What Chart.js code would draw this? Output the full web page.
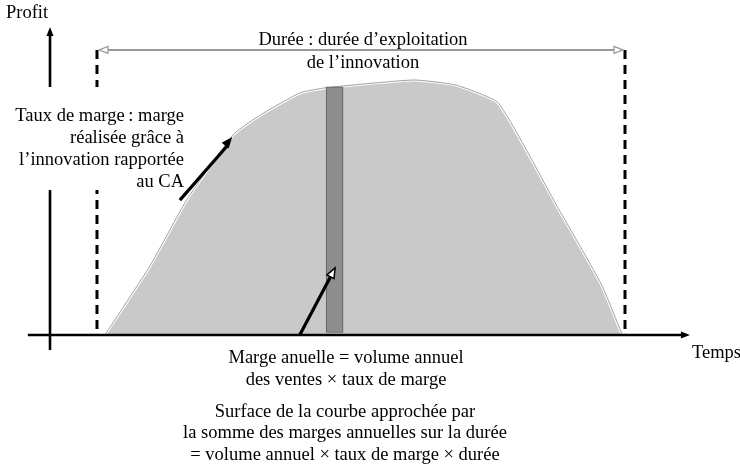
<!DOCTYPE html>
<html>
<head>
<meta charset="utf-8">
<script src="https://cdn.jsdelivr.net/npm/chart.js@4/dist/chart.umd.min.js"></script>
<style>
  html, body { margin: 0; padding: 0; background: #fff; }
  #c { display: block; }
</style>
</head>
<body>
<canvas id="c" width="740" height="465"></canvas>
<script>
// life cycle of the innovation: time (years of the duration) vs profit (% of peak)
const years  = [0.15, 1.0, 1.7, 2.6, 3.15, 3.85, 4.35, 6.0, 6.8, 7.6, 8.7, 9.55, 9.95];
const profit = [0,    27,  53,  79,  87,   95,   97,   100, 98,  91,  51,  20,   0];

// one annual margin slice
const barYear   = [4.5];
const barMargin = [[1, 97.3]];

const durationStart = 0;
const durationEnd   = 10;

const topLabel    = ["Durée : durée d’exploitation", "de l’innovation"];
const leftLabel   = ["Taux de marge\u2009: marge", "réalisée grâce à", "l’innovation rapportée", "au CA"];
const bottomLabel = ["Marge anuelle = volume annuel", "des ventes × taux de marge"];
const footLabel   = ["Surface de la courbe approchée par", "la somme des marges annuelles sur la durée", "= volume annuel × taux de marge × durée"];

const FONT = "18.5px 'Liberation Serif', 'Times New Roman', serif";

function arrowHead(ctx, x1, y1, x2, y2, len, wid, open) {
  const a = Math.atan2(y2 - y1, x2 - x1);
  ctx.save();
  ctx.translate(x2, y2);
  ctx.rotate(a);
  ctx.beginPath();
  ctx.moveTo(0, 0);
  ctx.lineTo(-len, -wid / 2);
  ctx.lineTo(-len, wid / 2);
  ctx.closePath();
  if (open) { ctx.fillStyle = "#fff"; ctx.fill(); ctx.stroke(); }
  else ctx.fill();
  ctx.restore();
}

const diagram = {
  id: "diagram",
  afterDatasetsDraw(chart) {
    const { ctx } = chart;
    const X = chart.scales.x, Y = chart.scales.y;
    const px = v => X.getPixelForValue(v);
    const py = v => Y.getPixelForValue(v);

    // axes
    const ox = px(-0.89), oy = py(0);
    ctx.save();
    ctx.strokeStyle = "#000"; ctx.fillStyle = "#000"; ctx.lineWidth = 2.6;
    ctx.beginPath();
    ctx.moveTo(px(-1.31), oy); ctx.lineTo(px(11.1), oy);
    ctx.moveTo(ox, py(-5.9)); ctx.lineTo(ox, py(119));
    ctx.stroke();
    arrowHead(ctx, px(-1.31), oy, px(11.23), oy, 9, 7, false);
    arrowHead(ctx, ox, py(-5.9), ox, py(120.8), 9, 7, false);

    // duration bounds
    const topP = 111.8;
    ctx.lineWidth = 3;
    ctx.setLineDash([9, 6]);
    ctx.beginPath();
    ctx.moveTo(px(durationStart), py(topP)); ctx.lineTo(px(durationStart), oy);
    ctx.moveTo(px(durationEnd), py(topP)); ctx.lineTo(px(durationEnd), oy);
    ctx.stroke();
    ctx.setLineDash([]);

    // duration arrow
    ctx.strokeStyle = "#999"; ctx.lineWidth = 2;
    ctx.beginPath();
    ctx.moveTo(px(durationStart) + 3, py(topP)); ctx.lineTo(px(durationEnd) - 3, py(topP));
    ctx.stroke();
    ctx.lineWidth = 1.2;
    arrowHead(ctx, px(durationEnd), py(topP), px(durationStart) + 2, py(topP), 9, 7, true);
    arrowHead(ctx, px(durationStart), py(topP), px(durationEnd) - 2, py(topP), 9, 7, true);

    // white box behind the left text
    ctx.fillStyle = "#fff";
    ctx.fillRect(8, 87, 178, 103);

    // pointer arrows
    ctx.strokeStyle = "#000"; ctx.fillStyle = "#000"; ctx.lineWidth = 3.2;
    ctx.beginPath();
    ctx.moveTo(px(1.57), py(52.9)); ctx.lineTo(px(2.48), py(74.5));
    ctx.moveTo(px(3.84), py(0)); ctx.lineTo(px(4.44), py(23.5));
    ctx.stroke();
    arrowHead(ctx, px(1.57), py(52.9), px(2.56), py(77.6), 11, 9, false);
    ctx.lineWidth = 1.5;
    arrowHead(ctx, px(3.84), py(0), px(4.51), py(26.3), 10, 8, true);

    // texts
    ctx.fillStyle = "#000";
    ctx.font = FONT;
    ctx.textBaseline = "middle";
    ctx.textAlign = "left";
    ctx.fillText("Profit", 6, 13);
    ctx.fillText("Temps", 692, 353);
    ctx.textAlign = "right";
    leftLabel.forEach((s, i) => ctx.fillText(s, 184, 116 + i * 22));
    ctx.textAlign = "center";
    topLabel.forEach((s, i) => ctx.fillText(s, 363, 40 + i * 23));
    bottomLabel.forEach((s, i) => ctx.fillText(s, 346, 358 + i * 22));
    footLabel.forEach((s, i) => ctx.fillText(s, 345, 412 + i * 21.5));
    ctx.restore();
  }
};

const curve = years.map((t, i) => ({ x: t, y: profit[i] }));

new Chart(document.getElementById("c"), {
  type: "line",
  plugins: [diagram],
  data: {
    datasets: [
      {
        type: "bar",
        data: barYear.map((t, i) => ({ x: t, y: barMargin[i] })),
        backgroundColor: "#8e8e8e",
        borderColor: "#5e5e5e",
        borderWidth: 1,
        borderSkipped: false,
        barThickness: 17,
        order: 0
      },
      {
        data: curve,
        borderColor: "#a0a0a0",
        borderWidth: 1,
        pointRadius: 0,
        fill: false,
        tension: 0.15,
        order: 1
      },
      {
        data: curve,
        borderColor: "#fff",
        borderWidth: 3,
        backgroundColor: "#c9c9c9",
        pointRadius: 0,
        fill: "origin",
        tension: 0.15,
        order: 2
      }
    ]
  },
  options: {
    responsive: false,
    animation: false,
    layout: { padding: 0 },
    plugins: { legend: { display: false }, tooltip: { enabled: false } },
    scales: {
      x: { type: "linear", display: false, offset: false, min: -1.837, max: 12.178 },
      y: { display: false, min: -50.98, max: 131.37 }
    }
  }
});
</script>
</body>
</html>
